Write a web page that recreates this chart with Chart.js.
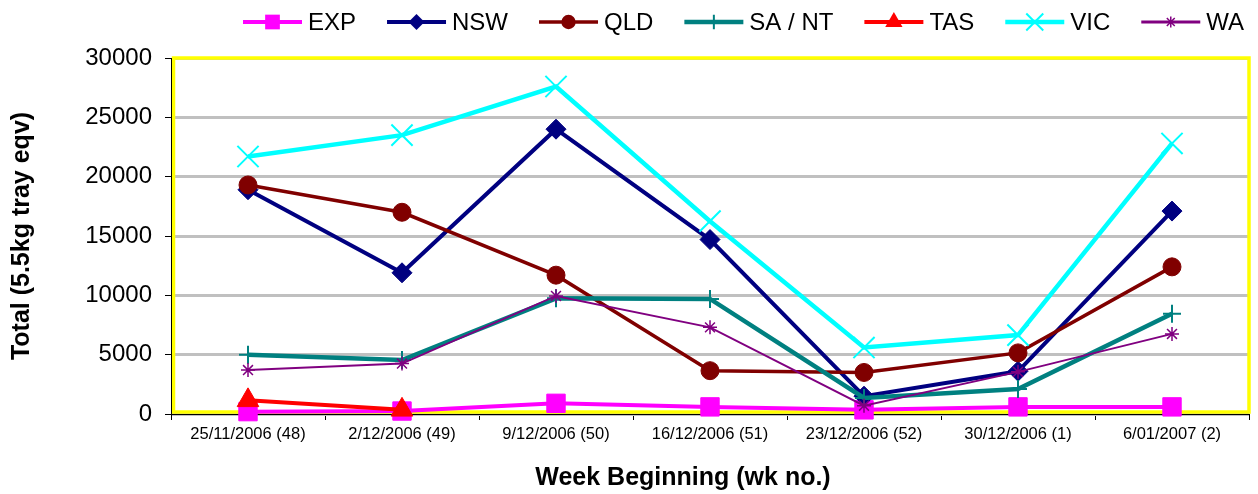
<!DOCTYPE html>
<html>
<head>
<meta charset="utf-8">
<script src="https://cdn.jsdelivr.net/npm/chart.js@4.4.0/dist/chart.umd.min.js"></script>
<style>
  html, body { margin: 0; padding: 0; background: #ffffff; }
  #wrap { width: 1258px; height: 494px; }
</style>
</head>
<body>
<div id="wrap"><canvas id="c" width="1258" height="494"></canvas></div>
<script>
const categories = ['25/11/2006 (48)', '2/12/2006 (49)', '9/12/2006 (50)', '16/12/2006 (51)', '23/12/2006 (52)', '30/12/2006 (1)', '6/01/2007 (2)'];
const seriesNames = ['EXP', 'NSW', 'QLD', 'SA / NT', 'TAS', 'VIC', 'WA'];
const EXP  = [200, 250, 900, 600, 350, 600, 600];
const NSW  = [18900, 11900, 24000, 14700, 1500, 3600, 17100];
const QLD  = [19300, 17000, 11700, 3650, 3500, 5150, 12400];
const SANT = [5000, 4550, 9750, 9700, 1350, 2100, 8450];
const TAS  = [1150, 350, null, null, null, null, null];
const VIC  = [21700, 23500, 27600, 16250, 5600, 6650, 22800];
const WA   = [3700, 4250, 9950, 7300, 700, 3550, 6750];
const yTicks = [0, 5000, 10000, 15000, 20000, 25000, 30000];
const xTitle = 'Week Beginning (wk no.)';
const yTitle = 'Total (5.5kg tray eqv)';

const FONT = 'Arial, "Liberation Sans", Helvetica, sans-serif';

const styles = [
  { color: '#FF00FF', width: 4,   point: 'rect',      r: 13, pbw: 1 },
  { color: '#000080', width: 4,   point: 'rectRot',   r: 10, pbw: 1 },
  { color: '#800000', width: 3.5, point: 'circle',    r: 9,  pbw: 1 },
  { color: '#008080', width: 4.5, point: 'cross',     r: 9,  pbw: 2 },
  { color: '#FF0000', width: 4,   point: 'triangle',  r: 12.5, pbw: 1 },
  { color: '#00FFFF', width: 4.5, point: 'crossRot',  r: 15, pbw: 2 },
  { color: '#800080', width: 2,   point: 'star',      r: 7,  pbw: 1.5 }
];
const seriesData = [EXP, NSW, QLD, SANT, TAS, VIC, WA];

const datasets = seriesNames.map((name, i) => ({
  label: name,
  data: seriesData[i],
  borderColor: styles[i].color,
  backgroundColor: styles[i].color,
  borderWidth: styles[i].width,
  pointStyle: styles[i].point,
  pointRadius: styles[i].r,
  pointHoverRadius: styles[i].r,
  pointBorderWidth: styles[i].pbw,
  pointBackgroundColor: styles[i].color,
  pointBorderColor: styles[i].color,
  tension: 0,
  spanGaps: false,
  clip: false,
  order: seriesNames.length - i
}));

function drawMarker(ctx, style, r, x, y, color, bw) {
  ctx.save();
  ctx.fillStyle = color;
  ctx.strokeStyle = color;
  ctx.lineWidth = bw;
  ctx.beginPath();
  const s = Math.SQRT1_2 * r;
  switch (style) {
    case 'rect':
      ctx.rect(x - s, y - s, 2 * s, 2 * s); ctx.fill(); break;
    case 'rectRot':
      ctx.moveTo(x - r, y); ctx.lineTo(x, y - r); ctx.lineTo(x + r, y); ctx.lineTo(x, y + r);
      ctx.closePath(); ctx.fill(); break;
    case 'circle':
      ctx.arc(x, y, r, 0, Math.PI * 2); ctx.fill(); break;
    case 'triangle': {
      const a = Math.PI * 2 / 3;
      ctx.moveTo(x, y - r);
      ctx.lineTo(x + Math.sin(a) * r, y - Math.cos(a) * r);
      ctx.lineTo(x + Math.sin(2 * a) * r, y - Math.cos(2 * a) * r);
      ctx.closePath(); ctx.fill(); break;
    }
    case 'cross':
      ctx.moveTo(x, y - r); ctx.lineTo(x, y + r);
      ctx.moveTo(x - r, y); ctx.lineTo(x + r, y); ctx.stroke(); break;
    case 'crossRot':
      ctx.moveTo(x - s, y - s); ctx.lineTo(x + s, y + s);
      ctx.moveTo(x + s, y - s); ctx.lineTo(x - s, y + s); ctx.stroke(); break;
    case 'star':
      ctx.moveTo(x, y - r); ctx.lineTo(x, y + r);
      ctx.moveTo(x - r, y); ctx.lineTo(x + r, y);
      ctx.moveTo(x - s, y - s); ctx.lineTo(x + s, y + s);
      ctx.moveTo(x + s, y - s); ctx.lineTo(x - s, y + s); ctx.stroke(); break;
  }
  ctx.restore();
}

const framePlugin = {
  id: 'frame',
  beforeDatasetsDraw(chart) {
    const { ctx, chartArea: a } = chart;
    ctx.save();
    ctx.strokeStyle = '#FFFF00';
    ctx.lineWidth = 3.5;
    ctx.strokeRect(a.left + 2.5, a.top, a.right - a.left - 2.5, a.bottom - a.top - 2);
    ctx.strokeStyle = '#000000';
    ctx.lineWidth = 1;
    ctx.beginPath();
    ctx.moveTo(a.left + 0.5, a.top);
    ctx.lineTo(a.left + 0.5, a.bottom + 0.5);
    ctx.lineTo(a.right, a.bottom + 0.5);
    ctx.stroke();
    ctx.restore();
  }
};

const legendPlugin = {
  id: 'customLegend',
  afterDraw(chart) {
    const ctx = chart.ctx;
    ctx.save();
    ctx.font = '24px ' + FONT;
    ctx.textBaseline = 'alphabetic';
    let x = 243;
    const ly = 22;
    chart.data.datasets.forEach((ds) => {
      ctx.strokeStyle = ds.borderColor;
      ctx.lineWidth = Math.max(ds.borderWidth, 3);
      ctx.beginPath();
      ctx.moveTo(x, ly);
      ctx.lineTo(x + 59, ly);
      ctx.stroke();
      drawMarker(ctx, ds.pointStyle, ds.pointRadius * 0.8, x + 29.5, ly, ds.borderColor, ds.pointBorderWidth);
      ctx.fillStyle = '#000000';
      ctx.fillText(ds.label, x + 65, 30);
      x = x + 65 + ctx.measureText(ds.label).width + 31;
    });
    ctx.font = 'bold 25px ' + FONT;
    ctx.textAlign = 'center';
    ctx.textBaseline = 'middle';
    ctx.fillText(xTitle, 683, 478);
    ctx.restore();
  }
};

new Chart(document.getElementById('c'), {
  type: 'line',
  data: { labels: categories, datasets: datasets },
  options: {
    responsive: false,
    animation: false,
    devicePixelRatio: 1,
    layout: { autoPadding: false, padding: { top: 58, right: 9, left: 0, bottom: 0 } },
    plugins: { legend: { display: false }, tooltip: { enabled: false } },
    scales: {
      x: {
        type: 'category',
        offset: true,
        afterFit(scale) { scale.height = 80; scale.paddingLeft = 0; scale.paddingRight = 0; },
        grid: { display: true, offset: true, drawOnChartArea: false, drawTicks: true, tickLength: 6, tickColor: '#000000', tickWidth: 1 },
        border: { display: true, color: '#000000', width: 1 },
        ticks: { color: '#000000', font: { family: FONT, size: 16.5 }, padding: 5, maxRotation: 0, autoSkip: false },
        title: { display: false, text: xTitle }
      },
      y: {
        min: 0,
        max: 30000,
        afterFit(scale) { scale.width = 171; scale.paddingTop = 0; scale.paddingBottom = 0; },
        afterBuildTicks(scale) { scale.ticks = yTicks.map(v => ({ value: v })); },
        grid: { color: '#C0C0C0', lineWidth: 3, drawTicks: true, tickLength: 6, tickColor: '#000000', tickWidth: 1 },
        border: { display: true, color: '#000000', width: 1 },
        ticks: { color: '#000000', font: { family: FONT, size: 24 }, padding: 13, callback: (v) => String(v) },
        title: { display: true, text: yTitle, color: '#000000', font: { family: FONT, size: 25, weight: 'bold', lineHeight: 1.2 }, padding: { top: 7, bottom: 0 } }
      }
    }
  },
  plugins: [framePlugin, legendPlugin]
});
</script>
</body>
</html>
